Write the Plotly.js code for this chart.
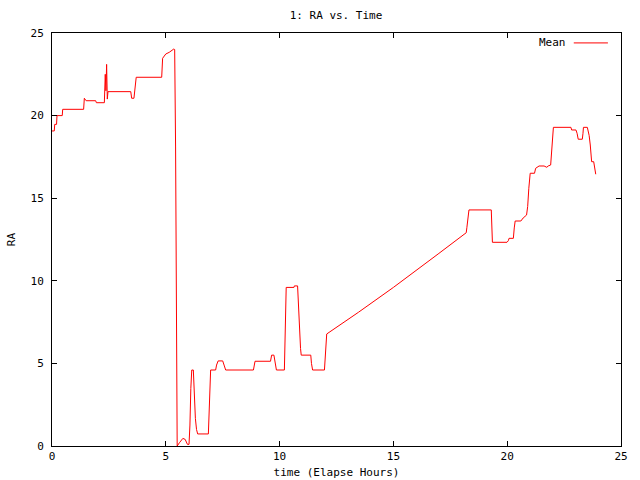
<!DOCTYPE html>
<html>
<head>
<meta charset="utf-8">
<script src="https://cdn.plot.ly/plotly-3.0.1.min.js"></script>
<style>html,body{margin:0;padding:0;background:#fff;}#chart{width:640px;height:480px;}</style>
</head>
<body>
<div id="chart"></div>
<script>
const chartTitle = "1: RA vs. Time";
const xTitle = "time (Elapse Hours)";
const yTitle = "RA";
const seriesName = "Mean";
const xTicks = [0, 5, 10, 15, 20, 25];
const yTicks = [0, 5, 10, 15, 20, 25];

const timeHours = [
  0.00, 0.10, 0.12, 0.20, 0.22, 0.45, 0.47, 1.39, 1.42, 1.50, 1.92, 1.95, 2.30,
  2.34, 2.37, 2.40, 2.43, 2.46, 3.46, 3.50, 3.60, 3.64, 3.70, 4.82, 4.86, 5.00,
  5.15, 5.35, 5.39, 5.43, 5.47, 5.50, 5.60, 5.75, 5.85, 5.95, 6.02, 6.06, 6.10,
  6.14, 6.21, 6.24, 6.30, 6.35, 6.40, 6.87, 6.90, 6.93, 6.97, 7.19, 7.23, 7.30,
  7.50, 7.56, 7.63, 8.85, 8.88, 8.92, 9.60, 9.65, 9.75, 9.80, 9.86, 10.21, 10.23,
  10.26, 10.29, 10.63, 10.65, 10.79, 10.85, 10.90, 10.92, 10.95, 11.37, 11.40,
  11.45, 11.97, 12.00, 12.03, 12.07, 13.46, 15.00, 17.00, 18.20, 18.23, 18.28,
  18.32, 19.30, 19.32, 19.35, 19.99, 20.05, 20.08, 20.27, 20.31, 20.35, 20.60,
  20.70, 20.85, 20.90, 20.95, 21.01, 21.20, 21.25, 21.40, 21.62, 21.74, 21.80,
  21.91, 21.95, 21.99, 22.03, 22.80, 22.83, 23.02, 23.07, 23.12, 23.30, 23.33,
  23.35, 23.52, 23.55, 23.60, 23.65, 23.68, 23.71, 23.80, 23.83, 23.86, 23.89
];
const raMean = [
  19.07, 19.07, 19.47, 19.47, 20.00, 20.00, 20.38, 20.38, 21.05, 20.90, 20.90, 20.78, 20.78,
  22.50, 21.50, 23.10, 21.00, 21.45, 21.45, 21.05, 21.05, 21.45, 22.32, 22.32, 23.47, 23.73,
  23.83, 24.03, 24.00, 18.10, 6.10, 0.00, 0.20, 0.46, 0.40, 0.10, 0.10, 1.27, 3.49,
  4.60, 4.60, 3.20, 1.67, 1.00, 0.73, 0.73, 1.67, 3.59, 4.60, 4.60, 4.90, 5.15,
  5.15, 4.90, 4.60, 4.60, 5.00, 5.13, 5.13, 5.50, 5.50, 5.00, 4.60, 4.60, 6.50,
  9.00, 9.60, 9.60, 9.69, 9.69, 7.50, 6.40, 5.90, 5.50, 5.50, 5.00,
  4.60, 4.60, 5.20, 6.20, 6.78, 8.09, 9.60, 11.66, 12.91, 13.24, 14.00,
  14.29, 14.29, 13.30, 12.33, 12.33, 12.43, 12.57, 12.57, 13.20, 13.62, 13.62,
  13.80, 13.98, 14.50, 15.60, 16.51, 16.51, 16.81, 16.95, 16.95, 16.87, 16.95,
  17.01, 18.00, 19.00, 19.29, 19.29, 19.13, 19.13, 18.93, 18.57, 18.57, 18.93,
  19.29, 19.29, 19.10, 18.80, 18.22, 17.61, 17.21, 17.21, 17.00, 16.70, 16.45
];

const mono = "'DejaVu Sans Mono', 'Liberation Mono', monospace";

const trace = {
  x: timeHours,
  y: raMean,
  type: "scatter",
  mode: "lines",
  name: seriesName,
  line: {color: "#ff0000", width: 1},
  showlegend: false
};

const axisCommon = {
  showgrid: false,
  zeroline: false,
  showline: true,
  linecolor: "#000",
  linewidth: 1,
  mirror: "allticks",
  ticks: "inside",
  ticklen: 5,
  tickwidth: 1,
  tickcolor: "#000",
  tickfont: {family: mono, size: 11, color: "#000"}
};

const layout = {
  width: 640,
  height: 480,
  paper_bgcolor: "#fff",
  plot_bgcolor: "#fff",
  margin: {l: 52, r: 19, t: 33, b: 34},
  font: {family: mono, size: 11, color: "#000"},
  title: {text: chartTitle, font: {family: mono, size: 11, color: "#000"}, x: 0.525, xanchor: "center", y: 0.968, yanchor: "middle"},
  xaxis: Object.assign({}, axisCommon, {
    range: [0, 25], tickvals: xTicks, ticktext: xTicks.map(String),
    title: {text: xTitle, font: {family: mono, size: 11, color: "#000"}, standoff: 6}
  }),
  yaxis: Object.assign({}, axisCommon, {
    range: [0, 25], tickvals: yTicks, ticktext: yTicks.map(String),
    ticklabelstandoff: 5,
    title: {text: yTitle, font: {family: mono, size: 11, color: "#000"}, standoff: 12}
  }),
  showlegend: false,
  annotations: [{
    xref: "paper", yref: "paper", x: 0.906, y: 0.976, xanchor: "right", yanchor: "middle",
    text: seriesName, showarrow: false, font: {family: mono, size: 11, color: "#000"}
  }],
  shapes: [{
    type: "line", xref: "paper", yref: "paper", x0: 0.917, x1: 0.977, y0: 0.976, y1: 0.976,
    line: {color: "#ff0000", width: 1}
  }]
};

Plotly.newPlot("chart", [trace], layout, {displayModeBar: false, staticPlot: true});
</script>
</body>
</html>
